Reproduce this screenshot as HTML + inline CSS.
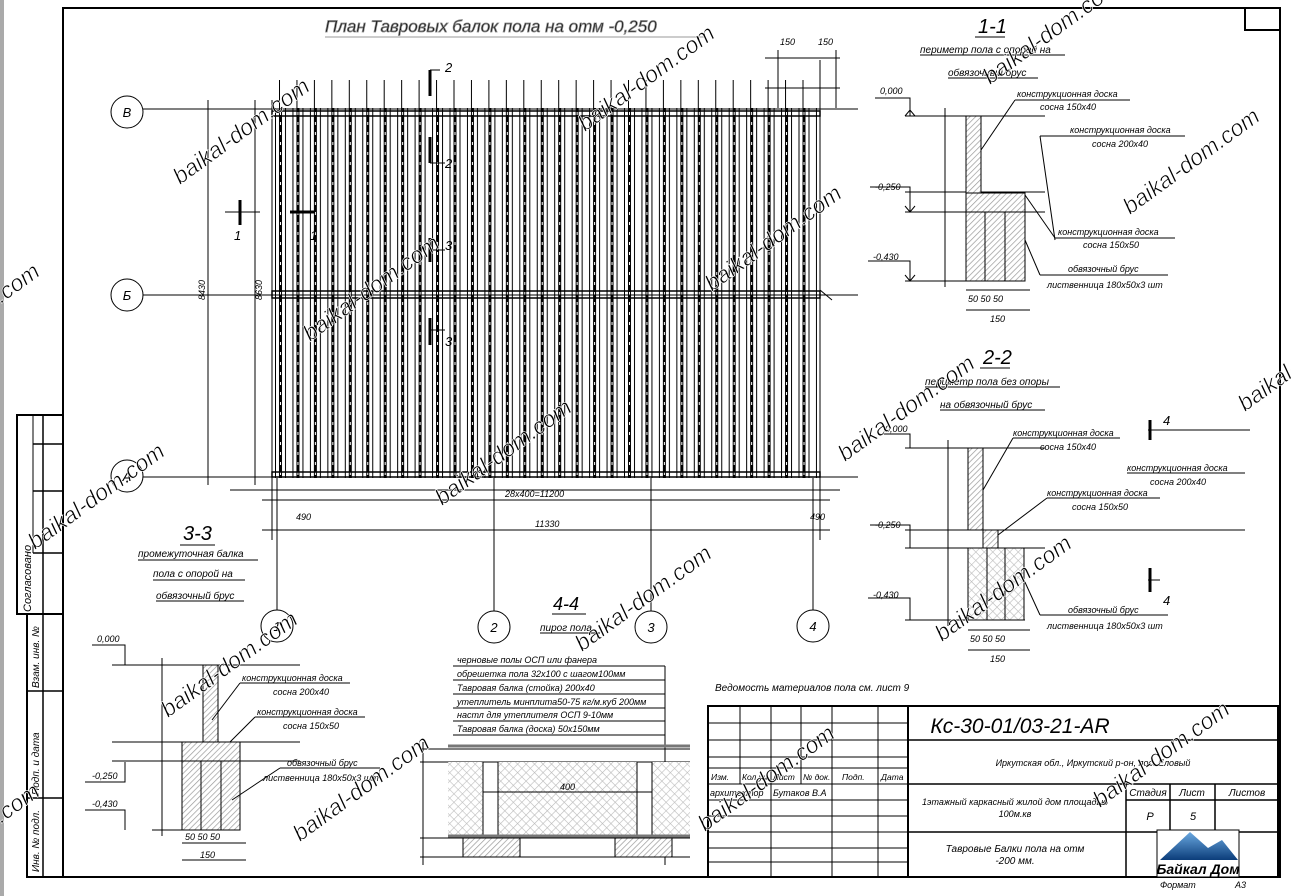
<!DOCTYPE html>
<html><head><meta charset="utf-8"><style>
html,body{margin:0;padding:0;background:#fff;}
svg{display:block;}
text{font-family:"Liberation Sans","DejaVu Sans",sans-serif;font-style:italic;fill:#000;}
.wm{font-family:"Liberation Serif",serif;font-style:normal;font-size:23px;fill:#555;stroke:#fff;stroke-width:0.6px;}
.s{font-size:9px;}
.g{fill:#888;}
</style></head><body>
<svg width="1291" height="896" viewBox="0 0 1291 896" xmlns="http://www.w3.org/2000/svg">
<defs>
<pattern id="beams" x="275" y="0" width="17.45" height="10" patternUnits="userSpaceOnUse">
<rect x="0" y="0" width="1" height="10" fill="#000"/>
<rect x="4" y="0" width="3" height="10" fill="#000"/>
<rect x="10" y="0" width="1" height="10" fill="#000"/>
<rect x="5" y="2" width="1" height="3" fill="#fff"/>
</pattern>
<pattern id="ticks" x="279" y="0" width="17.45" height="10" patternUnits="userSpaceOnUse">
<rect x="0" y="0" width="1" height="10" fill="#000"/>
</pattern>
<pattern id="hatch" width="4" height="4" patternUnits="userSpaceOnUse" patternTransform="rotate(45)">
<rect width="4" height="4" fill="#fff"/><rect width="0.7" height="4" fill="#999"/>
</pattern>
<pattern id="cross" width="6" height="6" patternUnits="userSpaceOnUse" patternTransform="rotate(45)">
<rect width="6" height="6" fill="#fff"/><rect width="0.6" height="6" fill="#bbb"/><rect width="6" height="0.6" fill="#bbb"/>
</pattern>
<linearGradient id="lg" x1="0" y1="0" x2="0" y2="1"><stop offset="0" stop-color="#6aa8e0"/><stop offset="1" stop-color="#0b3d7a"/></linearGradient>
</defs>
<rect x="0" y="0" width="4" height="896" fill="#aaa"/>
<!-- frame -->
<g fill="none" stroke="#000">
<path d="M63 8 H1280 V877 H63 Z" stroke-width="2"/>
<rect x="1245" y="8" width="35" height="22" stroke-width="2"/>
<!-- left strip -->
<rect x="17" y="415" width="46" height="199" stroke-width="2"/>
<line x1="43" y1="415" x2="43" y2="614" stroke-width="1.5"/>
<line x1="33" y1="415" x2="33" y2="553"/>
<line x1="33" y1="444" x2="63" y2="444" stroke-width="1.5"/>
<line x1="33" y1="491" x2="63" y2="491" stroke-width="1.5"/>
<line x1="33" y1="553" x2="63" y2="553" stroke-width="1.5"/>
<rect x="27" y="614" width="36" height="263" stroke-width="2"/>
<line x1="43" y1="614" x2="43" y2="877" stroke-width="1.5"/>
<line x1="27" y1="691" x2="63" y2="691" stroke-width="1.5"/>
<line x1="27" y1="798" x2="63" y2="798" stroke-width="1.5"/>
</g>
<text x="31" y="612" font-size="11" font-style="normal" transform="rotate(-90 31 612)">Согласовано</text>
<text x="39" y="688" font-size="10" font-style="normal" transform="rotate(-90 39 688)">Взам. инв. №</text>
<text x="39" y="795" font-size="10" font-style="normal" transform="rotate(-90 39 795)">Подп. и дата</text>
<text x="39" y="872" font-size="10" font-style="normal" transform="rotate(-90 39 872)">Инв. № подл.</text>

<!-- PLAN -->
<text x="325" y="32" font-size="17" fill="#fff" stroke="#888" stroke-width="0.8">План Тавровых балок пола  на отм -0,250</text>
<line x1="325" y1="37" x2="705" y2="37" stroke="#999"/>
<rect x="272" y="80" width="548" height="28" fill="url(#ticks)"/>
<rect x="272" y="108" width="548" height="370" fill="url(#beams)"/>
<g stroke="#000">
<line x1="112" y1="109" x2="858" y2="109"/>
<line x1="143" y1="295" x2="858" y2="295"/>
<line x1="143" y1="477" x2="858" y2="477"/>
<rect x="272" y="111" width="548" height="5" fill="none" stroke-width="1.5"/>
<rect x="272" y="291" width="548" height="7" fill="none" stroke-width="1.5"/>
<rect x="272" y="472" width="548" height="5" fill="none" stroke-width="1.5"/>
<line x1="208" y1="100" x2="208" y2="485"/>
<line x1="255" y1="100" x2="255" y2="485"/>
<line x1="272" y1="100" x2="272" y2="540"/>
<line x1="820" y1="60" x2="820" y2="540"/>
<line x1="778" y1="50" x2="778" y2="108"/>
<line x1="836" y1="50" x2="836" y2="108"/>
<line x1="765" y1="58" x2="840" y2="58"/>
<line x1="765" y1="88" x2="840" y2="88"/>
<line x1="230" y1="490" x2="840" y2="490"/>
<line x1="262" y1="500" x2="830" y2="500"/>
<line x1="262" y1="530" x2="830" y2="530"/>
<line x1="277" y1="478" x2="277" y2="610"/>
<line x1="494" y1="478" x2="494" y2="611"/>
<line x1="651" y1="478" x2="651" y2="611"/>
<line x1="813" y1="478" x2="813" y2="610"/>
<line x1="820" y1="290" x2="832" y2="300"/>
</g>
<g fill="#fff" stroke="#000">
<circle cx="127" cy="112" r="16"/><circle cx="127" cy="295" r="16"/><circle cx="127" cy="476" r="16"/>
<circle cx="277" cy="626" r="16"/><circle cx="494" cy="627" r="16"/><circle cx="651" cy="627" r="16"/><circle cx="813" cy="626" r="16"/>
</g>
<g font-size="13" fill="#888" text-anchor="middle">
<text x="127" y="117" fill="#888">В</text><text x="127" y="300" fill="#888">Б</text><text x="127" y="481" fill="#888">А</text>
<text x="277" y="631" fill="#888">1</text><text x="494" y="632" fill="#888">2</text><text x="651" y="632" fill="#888">3</text><text x="813" y="631" fill="#888">4</text>
</g>
<g class="s g" fill="#888">
<text x="505" y="497" fill="#888">28х400=11200</text>
<text x="535" y="527" fill="#888">11330</text>
<text x="296" y="520" fill="#888">490</text>
<text x="810" y="520" fill="#888">490</text>
<text x="780" y="45" fill="#888">150</text>
<text x="818" y="45" fill="#888">150</text>
<text x="205" y="300" transform="rotate(-90 205 300)" fill="#888">8430</text>
<text x="262" y="300" transform="rotate(-90 262 300)" fill="#888">8630</text>
</g>
<!-- section marks -->
<g stroke="#000" stroke-width="3">
<line x1="430" y1="70" x2="430" y2="96"/><line x1="430" y1="137" x2="430" y2="163"/>
<line x1="430" y1="238" x2="430" y2="262"/><line x1="430" y1="318" x2="430" y2="345"/>
<line x1="240" y1="200" x2="240" y2="225"/><line x1="290" y1="212" x2="315" y2="212"/>
<line x1="1150" y1="420" x2="1150" y2="440"/><line x1="1150" y1="568" x2="1150" y2="592"/>
</g>
<g stroke="#000"><line x1="430" y1="70" x2="440" y2="70"/><line x1="430" y1="163" x2="445" y2="163"/><line x1="430" y1="250" x2="445" y2="250"/><line x1="430" y1="330" x2="445" y2="330"/>
<line x1="225" y1="212" x2="260" y2="212"/><line x1="1148" y1="430" x2="1250" y2="430"/><line x1="1148" y1="580" x2="1160" y2="580"/></g>
<g font-size="13"><text x="445" y="72">2</text><text x="445" y="168">2</text><text x="445" y="250">3</text><text x="445" y="346">3</text><text x="234" y="240">1</text><text x="310" y="240">1</text>
<text x="1163" y="425">4</text><text x="1163" y="605">4</text></g>

<!-- SECTION 1-1 -->
<text x="978" y="33" font-size="20">1-1</text><line x1="975" y1="37" x2="1005" y2="37" stroke="#000"/>
<text x="920" y="53" font-size="10">периметр пола с опорой на</text><line x1="920" y1="55" x2="1065" y2="55" stroke="#000"/>
<text x="948" y="76" font-size="10">обвязочный брус</text><line x1="948" y1="78" x2="1038" y2="78" stroke="#000"/>
<g stroke="#000" fill="none">
<path d="M875 98 H910 V116 M905 116 L910 110 L915 116"/>
<path d="M870 187 H910 V212 M905 206 L910 212 L915 206"/>
<path d="M868 261 H910 V281 M905 275 L910 281 L915 275"/>
<line x1="905" y1="116" x2="1045" y2="116"/><line x1="905" y1="192" x2="1045" y2="192"/><line x1="905" y1="212" x2="1045" y2="212"/><line x1="905" y1="281" x2="1025" y2="281"/>
<line x1="945" y1="108" x2="945" y2="287"/>
<rect x="966" y="116" width="15" height="77" fill="url(#hatch)"/>
<rect x="966" y="193" width="59" height="19" fill="url(#hatch)"/>
<rect x="966" y="212" width="59" height="69" fill="url(#hatch)"/>
<line x1="985" y1="212" x2="985" y2="281"/><line x1="1005" y1="212" x2="1005" y2="281"/>
<line x1="966" y1="290" x2="1030" y2="290"/><line x1="966" y1="310" x2="1030" y2="310"/>
<line x1="1015" y1="100" x2="1130" y2="100"/><line x1="1015" y1="100" x2="981" y2="150"/>
<line x1="1040" y1="136" x2="1185" y2="136"/><line x1="1040" y1="136" x2="1055" y2="240"/>
<line x1="1055" y1="238" x2="1175" y2="238"/><line x1="1025" y1="195" x2="1055" y2="238"/>
<line x1="1040" y1="275" x2="1168" y2="275"/><line x1="1025" y1="240" x2="1040" y2="275"/>
</g>
<g font-size="9"><text x="880" y="94">0,000</text><text x="875" y="190">-0,250</text><text x="873" y="260">-0,430</text>
<text x="1017" y="97">конструкционная доска</text><text x="1040" y="110">сосна  150х40</text>
<text x="1070" y="133">конструкционная доска</text><text x="1092" y="147">сосна  200х40</text>
<text x="1058" y="235">конструкционная доска</text><text x="1083" y="248">сосна  150х50</text>
<text x="1068" y="272">обвязочный брус</text><text x="1047" y="288">лиственница  180х50х3 шт</text>
<text x="968" y="302" fill="#555">50  50  50</text><text x="990" y="322" fill="#888">150</text></g>

<!-- SECTION 2-2 -->
<text x="983" y="364" font-size="20">2-2</text><line x1="980" y1="368" x2="1010" y2="368" stroke="#000"/>
<text x="925" y="385" font-size="10">периметр пола без опоры</text><line x1="925" y1="387" x2="1060" y2="387" stroke="#000"/>
<text x="940" y="408" font-size="10">на обвязочный брус</text><line x1="940" y1="410" x2="1045" y2="410" stroke="#000"/>
<g stroke="#000" fill="none">
<path d="M880 434 H910 V448"/>
<path d="M870 525 H910 V548"/>
<path d="M868 598 H910 V620"/>
<line x1="905" y1="448" x2="1045" y2="448"/><line x1="905" y1="530" x2="1245" y2="530"/><line x1="905" y1="548" x2="1045" y2="548"/><line x1="905" y1="620" x2="1025" y2="620"/>
<line x1="948" y1="440" x2="948" y2="626"/>
<rect x="968" y="448" width="15" height="82" fill="url(#hatch)"/>
<rect x="983" y="530" width="15" height="18" fill="url(#hatch)"/>
<rect x="968" y="548" width="56" height="72" fill="url(#cross)"/>
<line x1="987" y1="548" x2="987" y2="620"/><line x1="1005" y1="548" x2="1005" y2="620"/>
<line x1="968" y1="630" x2="1030" y2="630"/><line x1="968" y1="650" x2="1030" y2="650"/>
<line x1="1013" y1="438" x2="1120" y2="438"/><line x1="1013" y1="438" x2="983" y2="490"/>
<line x1="1127" y1="473" x2="1245" y2="473"/>
<line x1="1047" y1="498" x2="1160" y2="498"/><line x1="1047" y1="498" x2="998" y2="535"/>
<line x1="1040" y1="615" x2="1168" y2="615"/><line x1="1024" y1="580" x2="1040" y2="615"/>
</g>
<g font-size="9"><text x="885" y="432">0,000</text><text x="875" y="528">-0,250</text><text x="873" y="598">-0,430</text>
<text x="1013" y="436">конструкционная доска</text><text x="1040" y="450">сосна  150х40</text>
<text x="1127" y="471">конструкционная доска</text><text x="1150" y="485">сосна  200х40</text>
<text x="1047" y="496">конструкционная доска</text><text x="1072" y="510">сосна  150х50</text>
<text x="1068" y="613">обвязочный брус</text><text x="1047" y="629">лиственница  180х50х3 шт</text>
<text x="970" y="642" fill="#555">50  50  50</text><text x="990" y="662" fill="#888">150</text></g>

<!-- SECTION 3-3 -->
<text x="183" y="540" font-size="20">3-3</text><line x1="180" y1="545" x2="215" y2="545" stroke="#000"/>
<text x="138" y="557" font-size="10">промежуточная балка</text><line x1="138" y1="560" x2="258" y2="560" stroke="#000"/>
<text x="153" y="577" font-size="10">пола с опорой на</text><line x1="153" y1="580" x2="245" y2="580" stroke="#000"/>
<text x="156" y="599" font-size="10">обвязочный брус</text><line x1="156" y1="601" x2="244" y2="601" stroke="#000"/>
<g stroke="#000" fill="none">
<path d="M92 645 H125 V665"/>
<path d="M85 782 H125 V762"/>
<path d="M85 810 H125 V830"/>
<line x1="112" y1="665" x2="300" y2="665"/><line x1="112" y1="742" x2="300" y2="742"/><line x1="112" y1="761" x2="300" y2="761"/><line x1="152" y1="830" x2="240" y2="830"/>
<line x1="162" y1="658" x2="162" y2="836"/>
<rect x="203" y="665" width="15" height="77" fill="url(#hatch)"/>
<rect x="182" y="742" width="58" height="19" fill="url(#hatch)"/>
<rect x="182" y="761" width="58" height="69" fill="url(#hatch)"/>
<line x1="201" y1="761" x2="201" y2="830"/><line x1="221" y1="761" x2="221" y2="830"/>
<line x1="182" y1="843" x2="246" y2="843"/><line x1="182" y1="860" x2="246" y2="860"/>
<line x1="240" y1="683" x2="350" y2="683"/><line x1="240" y1="683" x2="212" y2="720"/>
<line x1="255" y1="717" x2="365" y2="717"/><line x1="255" y1="717" x2="230" y2="742"/>
<line x1="280" y1="768" x2="380" y2="768"/><line x1="280" y1="768" x2="232" y2="800"/>
</g>
<g font-size="9"><text x="97" y="642">0,000</text><text x="92" y="779">-0,250</text><text x="92" y="807">-0,430</text>
<text x="242" y="681">конструкционная доска</text><text x="273" y="695">сосна  200х40</text>
<text x="257" y="715">конструкционная доска</text><text x="283" y="729">сосна  150х50</text>
<text x="287" y="766">обвязочный брус</text><text x="263" y="781">лиственница  180х50х3 шт</text>
<text x="185" y="840" fill="#555">50  50  50</text><text x="200" y="858" fill="#888">150</text></g>

<!-- SECTION 4-4 -->
<text x="553" y="610" font-size="18">4-4</text><line x1="552" y1="614" x2="586" y2="614" stroke="#000"/>
<text x="540" y="631" font-size="10">пирог пола</text><line x1="540" y1="633" x2="600" y2="633" stroke="#000"/>
<g stroke="#000" fill="none">
<line x1="453" y1="666" x2="665" y2="666"/><line x1="453" y1="680" x2="665" y2="680"/><line x1="453" y1="694" x2="665" y2="694"/>
<line x1="453" y1="708" x2="665" y2="708"/><line x1="453" y1="721" x2="665" y2="721"/><line x1="453" y1="735" x2="665" y2="735"/>
<line x1="665" y1="666" x2="665" y2="865"/>
<line x1="448" y1="746" x2="690" y2="746" stroke="#777" stroke-width="3"/>
<line x1="420" y1="749" x2="690" y2="749"/>
<line x1="420" y1="762" x2="690" y2="762"/>
<rect x="448" y="762" width="242" height="74" fill="url(#cross)" stroke="none"/>
<rect x="483" y="762" width="15" height="74" fill="#fff"/><rect x="637" y="762" width="15" height="74" fill="#fff"/>
<line x1="483" y1="792" x2="652" y2="792"/>
<line x1="448" y1="836" x2="690" y2="836" stroke="#777" stroke-width="3"/>
<line x1="420" y1="838" x2="690" y2="838"/>
<line x1="420" y1="857" x2="690" y2="857"/>
<rect x="463" y="838" width="57" height="19" fill="url(#hatch)"/><rect x="615" y="838" width="57" height="19" fill="url(#hatch)"/>
<line x1="423" y1="742" x2="423" y2="865"/>
</g>
<g font-size="9"><text x="457" y="663">черновые полы ОСП или фанера</text><text x="457" y="677">обрешетка пола 32х100 с шагом100мм</text>
<text x="457" y="691">Тавровая балка (стойка) 200х40</text><text x="457" y="705">утеплитель минплита50-75 кг/м.куб 200мм</text>
<text x="457" y="718">настл для утеплителя ОСП 9-10мм</text><text x="457" y="732">Тавровая балка (доска) 50х150мм</text>
<text x="560" y="790" fill="#999">400</text></g>
<text x="715" y="691" font-size="10" fill="#888">Ведомость материалов пола см. лист 9</text>

<!-- TITLE BLOCK -->
<g stroke="#000" fill="none" stroke-width="1.5">
<rect x="708" y="706" width="570" height="171" stroke-width="2"/>
<line x1="908" y1="706" x2="908" y2="877" stroke-width="2"/>
<line x1="908" y1="740" x2="1278" y2="740"/>
<line x1="908" y1="784" x2="1278" y2="784"/>
<line x1="908" y1="832" x2="1278" y2="832"/>
<line x1="1126" y1="784" x2="1126" y2="877"/>
<line x1="1126" y1="800" x2="1278" y2="800"/>
<line x1="1170" y1="784" x2="1170" y2="832"/><line x1="1215" y1="784" x2="1215" y2="832"/>
<g stroke-width="1">
<line x1="708" y1="723" x2="908" y2="723"/><line x1="708" y1="740" x2="908" y2="740"/><line x1="708" y1="757" x2="908" y2="757"/>
<line x1="708" y1="768" x2="908" y2="768"/><line x1="708" y1="784" x2="908" y2="784"/><line x1="708" y1="800" x2="908" y2="800"/>
<line x1="708" y1="816" x2="908" y2="816"/><line x1="708" y1="832" x2="908" y2="832"/><line x1="708" y1="848" x2="908" y2="848"/><line x1="708" y1="862" x2="908" y2="862"/>
<line x1="740" y1="706" x2="740" y2="784"/><line x1="771" y1="706" x2="771" y2="877"/><line x1="801" y1="706" x2="801" y2="784"/>
<line x1="832" y1="706" x2="832" y2="877"/><line x1="878" y1="706" x2="878" y2="877"/>
</g></g>
<g font-size="8.5" font-style="normal"><text x="711" y="780">Изм.</text><text x="742" y="780">Кол.уч.</text><text x="773" y="780">Лист</text><text x="803" y="780">№ док.</text><text x="842" y="780">Подп.</text><text x="881" y="780">Дата</text></g>
<g font-size="9"><text x="710" y="796">архитектор</text><text x="773" y="796">Бутаков В.А</text></g>
<text x="1020" y="733" font-size="21" text-anchor="middle">Кс-30-01/03-21-АR</text>
<text x="1093" y="766" font-size="9" text-anchor="middle">Иркутская обл., Иркутский р-он, пос. Еловый</text>
<text x="1015" y="805" font-size="9" text-anchor="middle">1этажный каркасный жилой дом  площадью</text>
<text x="1015" y="817" font-size="9" text-anchor="middle">100м.кв</text>
<text x="1015" y="852" font-size="10" text-anchor="middle">Тавровые Балки пола  на отм</text>
<text x="1015" y="864" font-size="10" text-anchor="middle">-200 мм.</text>
<g font-size="10" font-style="normal" text-anchor="middle"><text x="1148" y="796">Стадия</text><text x="1192" y="796">Лист</text><text x="1247" y="796">Листов</text></g>
<g font-size="11" text-anchor="middle"><text x="1150" y="820">Р</text><text x="1193" y="820">5</text></g>
<rect x="1157" y="830" width="82" height="47" fill="#fff" stroke="#000"/>
<path d="M1160 860 L1190 832 L1208 848 L1222 840 L1238 860 Z" fill="url(#lg)"/>
<text x="1198" y="874" font-size="14" font-weight="bold" font-style="normal" fill="#1a4d8c" text-anchor="middle">Байкал Дом</text>
<text x="1160" y="888" font-size="9">Формат</text><text x="1235" y="888" font-size="9">А3</text>

<!-- watermarks -->
<g class="wm">
<text transform="translate(180 185) rotate(-36)">baikal-dom.com</text>
<text transform="translate(585 132) rotate(-36)">baikal-dom.com</text>
<text transform="translate(990 85) rotate(-36)">baikal-dom.com</text>
<text transform="translate(1130 215) rotate(-36)">baikal-dom.com</text>
<text transform="translate(712 292) rotate(-36)">baikal-dom.com</text>
<text transform="translate(310 342) rotate(-36)">baikal-dom.com</text>
<text transform="translate(845 462) rotate(-36)">baikal-dom.com</text>
<text transform="translate(442 506) rotate(-36)">baikal-dom.com</text>
<text transform="translate(35 550) rotate(-36)">baikal-dom.com</text>
<text transform="translate(582 652) rotate(-36)">baikal-dom.com</text>
<text transform="translate(168 718) rotate(-36)">baikal-dom.com</text>
<text transform="translate(942 642) rotate(-36)">baikal-dom.com</text>
<text transform="translate(705 832) rotate(-36)">baikal-dom.com</text>
<text transform="translate(1100 808) rotate(-36)">baikal-dom.com</text>
<text transform="translate(300 842) rotate(-36)">baikal-dom.com</text>
<text transform="translate(-90 370) rotate(-36)">baikal-dom.com</text>
<text transform="translate(-90 890) rotate(-36)">baikal-dom.com</text>
<text transform="translate(1245 412) rotate(-36)">baikal-dom.com</text>
</g>
</svg>
</body></html>
